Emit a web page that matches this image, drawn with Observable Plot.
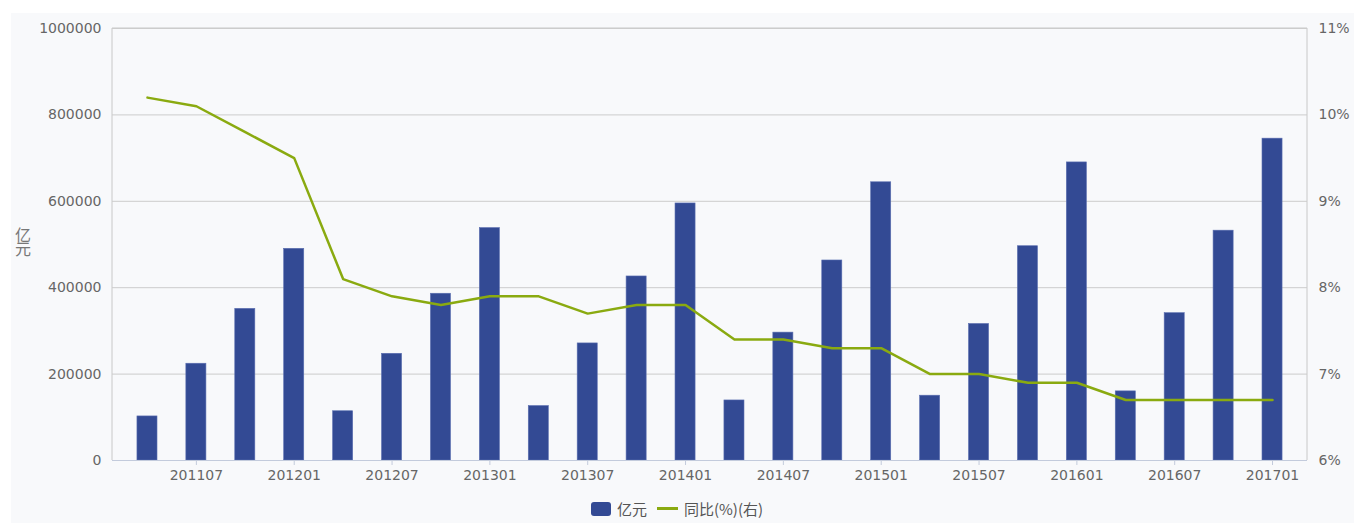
<!DOCTYPE html>
<html>
<head>
<meta charset="utf-8">
<script src="https://cdn.jsdelivr.net/npm/d3@7"></script>
<script src="https://cdn.jsdelivr.net/npm/@observablehq/plot@0.6"></script>
<style>
  html, body { margin: 0; padding: 0; background: #ffffff; }
  #panel { position: absolute; left: 11px; top: 13px; width: 1343px; height: 510px; background: #f8f9fb; }
  #chart { position: absolute; left: 0; top: 0; }
  #ylabel { position: absolute; left: 11px; top: 227px; writing-mode: vertical-rl; font: 16px "Noto Sans CJK SC", sans-serif; color: #777; letter-spacing: -2px; }
  #legend { position: absolute; left: 0; width: 1354px; top: 496px; text-align: center; font: 15px "Noto Sans CJK SC", sans-serif; color: #555; }
  #legend span { display: inline-block; vertical-align: middle; }
  .sw { width: 20px; height: 14px; border-radius: 3px; background: #334a94; margin-right: 6px; }
  .ln { width: 21px; height: 3px; background: #8aaa10; margin: 0 6px 0 10px; }
</style>
</head>
<body>
<div id="chart"></div>
<div id="ylabel">亿元</div>
<div id="legend"><span class="sw"></span><span>亿元</span><span class="ln"></span><span>同比(%)(右)</span></div>
<script>
// Data
const periods = ["201104","201107","201110","201201","201204","201207","201210","201301",
                 "201304","201307","201310","201401","201404","201407","201410","201501",
                 "201504","201507","201510","201601","201604","201607","201610","201701"];
const amounts = [102000, 224000, 351000, 490000, 114000, 247000, 386000, 538000,
                 126000, 271000, 426000, 595000, 139000, 296000, 463000, 644000,
                 150000, 316000, 496000, 690000, 160000, 341000, 532000, 745000];
const yoy = [10.2, 10.1, 9.8, 9.5, 8.1, 7.9, 7.8, 7.9,
             7.9, 7.7, 7.8, 7.8, 7.4, 7.4, 7.3, 7.3,
             7.0, 7.0, 6.9, 6.9, 6.7, 6.7, 6.7, 6.7];
const leftTicks = [0, 200000, 400000, 600000, 800000, 1000000];
const rightTicks = [6, 7, 8, 9, 10, 11];
const xTickLabels = periods.filter(p => p.endsWith("07") || p.endsWith("01"));

const pctMin = 6, pctMax = 11, amtMax = 1000000;
const toLeft = p => (p - pctMin) / (pctMax - pctMin) * amtMax;

const rows = periods.map((p, i) => ({period: p, amount: amounts[i], yoy: yoy[i], yoyScaled: toLeft(yoy[i])}));

const font = '"DejaVu Sans", sans-serif';
const plot = Plot.plot({
  width: 1354,
  height: 490,
  marginLeft: 112,
  marginRight: 47,
  marginTop: 28,
  marginBottom: 30,
  style: {background: "transparent", fontFamily: font, fontSize: "14px", color: "#666", overflow: "visible"},
  x: {type: "band", domain: periods, paddingInner: 0.59, paddingOuter: 0.51, round: false, label: null},
  y: {domain: [0, amtMax], label: null},
  marks: [
    Plot.ruleY(leftTicks.slice(1), {stroke: "#cccccc", strokeWidth: 1}),
    Plot.barY(rows, {x: "period", y: "amount", fill: "#334a94", stroke: "#5a6eb0", strokeWidth: 0.6}),
    Plot.line(rows, {x: "period", y: "yoyScaled", stroke: "#8aaa10", strokeWidth: 2.5, strokeLinejoin: "round"}),
    Plot.axisY(leftTicks, {anchor: "left", tickSize: 0, tickPadding: 11, tickFormat: d => String(d), label: null, fill: "#666"}),
    Plot.axisY(rightTicks.map(toLeft), {anchor: "right", tickSize: 0, tickPadding: 11, tickFormat: (d, i) => rightTicks[i] + "%", label: null, fill: "#666"}),
    Plot.axisX(xTickLabels, {tickSize: 5, tickPadding: 5, stroke: "#c3cbdc", label: null, fill: "#666"}),
    Plot.ruleY([0], {stroke: "#c3cbdc", strokeWidth: 1.2})
  ]
});
const svg = d3.select(plot);
const yS = plot.scale("y");
const xr = plot.scale("x").range;
svg.insert("g", ":first-child").attr("class", "frame")
  .call(g => {
    g.append("line").attr("x1", xr[0]).attr("x2", xr[1]).attr("y1", yS.apply(amtMax)).attr("y2", yS.apply(amtMax)).attr("stroke", "#c8c8c8");
    g.append("line").attr("x1", xr[0]).attr("x2", xr[0]).attr("y1", yS.apply(amtMax)).attr("y2", yS.apply(0)).attr("stroke", "#c8c8c8");
    g.append("line").attr("x1", xr[1]).attr("x2", xr[1]).attr("y1", yS.apply(amtMax)).attr("y2", yS.apply(0)).attr("stroke", "#c8c8c8");
  });
const panel = document.createElement("div");
panel.id = "panel";
document.body.insertBefore(panel, document.body.firstChild);
document.getElementById("chart").appendChild(plot);
</script>
</body>
</html>
